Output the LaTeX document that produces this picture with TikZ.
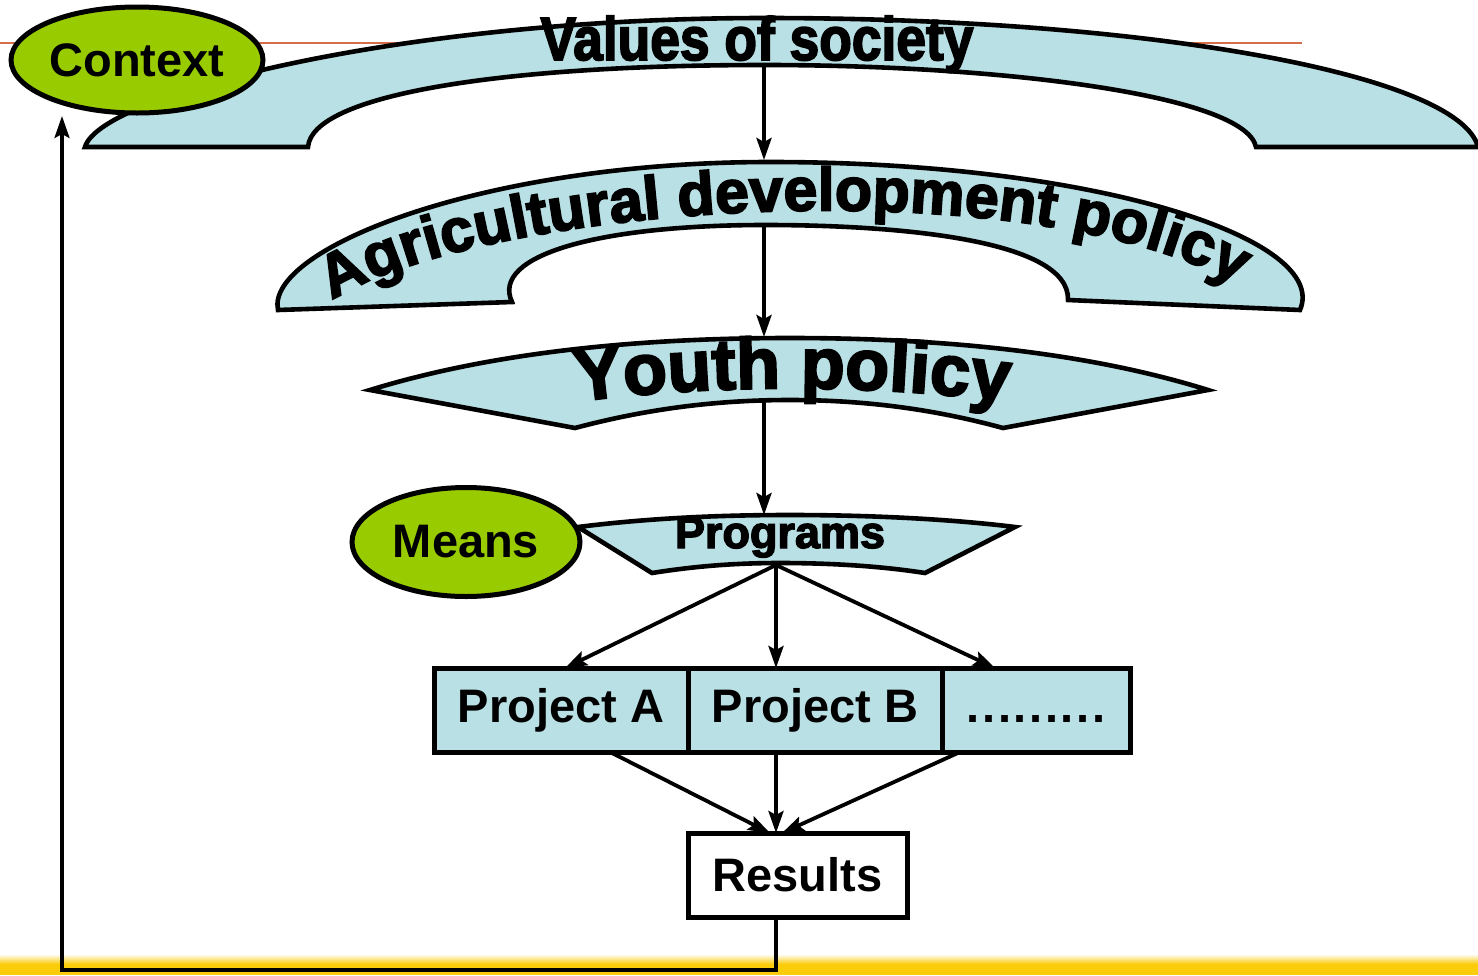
\documentclass[tikz,border=0pt]{standalone}
\usepackage{fontspec}
\usepackage{graphicx}
\setmainfont{Liberation Sans}
\newfontfamily\wafont[BoldFeatures={FakeBold=3}]{Liberation Sans}
\usetikzlibrary{arrows.meta,shapes.geometric,decorations.text}
\definecolor{lblue}{RGB}{185,224,228}
\definecolor{lgreen}{RGB}{153,204,0}
\definecolor{orangeline}{RGB}{214,110,75}
\definecolor{gold}{RGB}{250,204,10}
\begin{document}
\begin{tikzpicture}[x=0.5pt,y=-0.5pt,
  band/.style={fill=lblue,draw=black,line width=2.3pt,line join=miter},
  lab/.style={font=\fontsize{23.5}{24}\selectfont\bfseries},
  oval/.style={ellipse,fill=lgreen,draw=black,line width=2.5pt,inner sep=0pt},
  projbox/.style={rectangle,fill=lblue,draw=black,line width=2.5pt,inner sep=0pt,minimum height=42pt},
  arr/.style={line width=1.9pt,-{Stealth[length=11pt,width=7.5pt,inset=2pt]}},
  link/.style={line width=1.9pt}
]
\useasboundingbox (0,0) rectangle (1478,975);
% background decorations
\draw[orangeline,line width=1pt] (0,43) -- (1302,43);
\shade[top color=white,bottom color=gold] (0,954) rectangle (1478,964);
\fill[gold] (0,964) rectangle (1478,975);

% Values of society arch
\draw[band] (85,147) .. controls (100,95) and (400,18) .. (765,18)
  .. controls (1150,18) and (1460,75) .. (1478,147) -- (1256,147)
  .. controls (1245,95) and (1000,65) .. (765,65)
  .. controls (500,65) and (312,95) .. (308,147) -- cycle;
% Agricultural development policy arch
\draw[band] (278,310) .. controls (265,250) and (480,162) .. (770,162)
  .. controls (1100,162) and (1330,240) .. (1300,310) -- (1068,300)
  .. controls (1070,240) and (900,225) .. (765,225)
  .. controls (600,225) and (490,255) .. (512,302) -- cycle;
% Youth policy chevron
\draw[band] (370,390) .. controls (500,350) and (650,338) .. (790,338)
  .. controls (930,338) and (1080,350) .. (1208,390) -- (1003,428)
  .. controls (930,408) and (860,400) .. (790,400)
  .. controls (720,400) and (650,408) .. (575,428) -- cycle;
% Programs shape
\draw[band] (578,527) .. controls (650,518) and (720,515) .. (790,515)
  .. controls (870,515) and (950,519) .. (1015,527) -- (925,573)
  .. controls (880,566) and (830,563) .. (780,563)
  .. controls (730,563) and (690,567) .. (652,573) -- cycle;

% texts of the bands
\node[anchor=base,inner sep=0pt,font=\wafont\bfseries\fontsize{29}{29}\selectfont] (valtxt) at (757,60) {\scalebox{0.92}[1.05]{Values of society}};
\path[decorate,decoration={text along path,text align=center,
  text={|\wafont\bfseries\fontsize{30.5}{31}\selectfont|Agricultural development policy}}]
  (312,315) .. controls (445,200) and (1065,160) .. (1258,298);
\path[decorate,decoration={text along path,text align=center,
  text={|\wafont\bfseries\fontsize{36}{36}\selectfont|Youth policy}}]
  (560,404) .. controls (700,383) and (880,383) .. (1025,404);
\node[anchor=base,inner sep=0pt,font=\wafont\bfseries\fontsize{22.5}{23}\selectfont] (progtxt) at (780,548) {Programs};

% boxes
\node[projbox,minimum width=127pt,lab] (pa) at (561,710) {Project A};
\node[projbox,minimum width=127pt,lab] (pb) at (815,710) {Project B};
\node[projbox,minimum width=94pt,lab] (pc) at (1036,710) {\vphantom{Pj}.\kern1.3pt.\kern1.3pt.\kern1.3pt.\kern1.3pt.\kern1.3pt.\kern1.3pt.\kern1.3pt.\kern1.3pt.};
\node[rectangle,draw,fill=white,line width=2.5pt,minimum width=109.5pt,minimum height=42pt,inner sep=0pt,lab] (res) at (797.5,875) {Results};

% connector end points
\coordinate (v1) at (764,67);  \coordinate (a0) at (764,160);
\coordinate (a1) at (764,225); \coordinate (y0) at (764,337);
\coordinate (y1) at (764,400); \coordinate (p0) at (764,515);
\coordinate (p1) at (776,565);
\coordinate (ta) at (565,668); \coordinate (tb) at (776,668); \coordinate (tc) at (995,668);
\coordinate (sa) at (610,752); \coordinate (sb) at (776,752); \coordinate (sc) at (960,752);
\coordinate (r1) at (770,833); \coordinate (r2) at (776,833); \coordinate (r3) at (782,833);
\coordinate (rb) at (776,917); \coordinate (fb) at (62,970); \coordinate (ci) at (62,116);

\draw[arr] (v1) -- (a0);
\draw[arr] (a1) -- (y0);
\draw[arr] (y1) -- (p0);
\draw[arr] (p1) -- (ta);
\draw[arr] (p1) -- (tb);
\draw[arr] (p1) -- (tc);
\draw[arr] (sa) -- (r1);
\draw[arr] (sb) -- (r2);
\draw[arr] (sc) -- (r3);
\draw[arr,line width=1.6pt] (rb) -- (rb |- fb) -- (fb) -- (ci);

% ovals
\node[oval,minimum width=126pt,minimum height=53pt,lab] (ctx) at (137,60) {Context};
\node[oval,minimum width=114pt,minimum height=54.5pt,lab] (means) at (466,542) {Means};
\end{tikzpicture}
\end{document}
